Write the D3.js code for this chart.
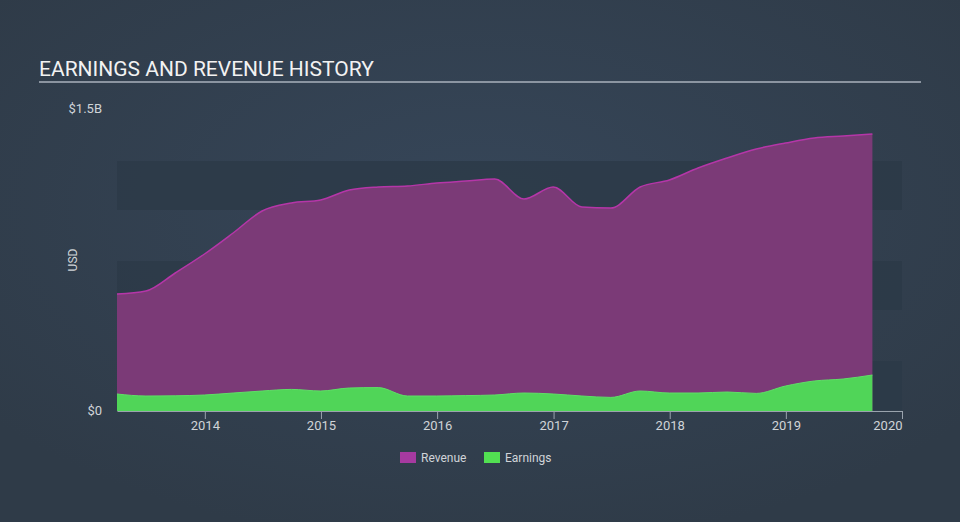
<!DOCTYPE html>
<html>
<head>
<meta charset="utf-8">
<script src="https://cdn.jsdelivr.net/npm/d3@7"></script>
<style>
  body { margin: 0; background: #344253; }
  svg { display: block; font-family: Roboto, "Open Sans", sans-serif; }
</style>
</head>
<body>
<div id="chart"></div>
<script>
// quarterly figures, billions USD
var dates = ["2013-03-31","2013-06-30","2013-09-30","2013-12-31","2014-03-31","2014-06-30","2014-09-30","2014-12-31",
             "2015-03-31","2015-06-30","2015-09-30","2015-12-31","2016-03-31","2016-06-30","2016-09-30","2016-12-31",
             "2017-03-31","2017-06-30","2017-09-30","2017-12-31","2018-03-31","2018-06-30","2018-09-30","2018-12-31",
             "2019-03-31","2019-06-30","2019-09-30"];
var revenue = [0.585, 0.60, 0.69, 0.785, 0.89, 1.0, 1.04, 1.055, 1.105, 1.12, 1.125, 1.14, 1.15, 1.16,
               1.06, 1.12, 1.02, 1.015, 1.12, 1.155, 1.215, 1.265, 1.31, 1.34, 1.365, 1.375, 1.385];
var earnings = [0.085, 0.075, 0.076, 0.08, 0.09, 0.10, 0.108, 0.10, 0.115, 0.117, 0.075, 0.075, 0.077, 0.08,
                0.09, 0.085, 0.075, 0.068, 0.10, 0.09, 0.09, 0.095, 0.088, 0.125, 0.15, 0.16, 0.18];
var xTicks = [2014, 2015, 2016, 2017, 2018, 2019, 2020];
var yTicks = [0, 1.5];
var legendItems = ["Revenue", "Earnings"];

var W = 960, H = 522;
var margin = {top: 111, right: 58, bottom: 111, left: 117},
    width = W - margin.left - margin.right,
    height = H - margin.top - margin.bottom;

var svg = d3.select("#chart").append("svg")
  .attr("width", W).attr("height", H);

var defs = svg.append("defs");
var grad = defs.append("radialGradient").attr("id", "bg")
  .attr("cx", "50%").attr("cy", "40%").attr("r", "65%");
grad.append("stop").attr("offset", "0%").attr("stop-color", "#364659");
grad.append("stop").attr("offset", "100%").attr("stop-color", "#2f3b48");
svg.append("rect").attr("width", W).attr("height", H).attr("fill", "url(#bg)");

// title
svg.append("text")
  .attr("x", 39).attr("y", 76)
  .attr("font-size", "21px")
  .attr("fill", "#f2f2f2")
  .text("EARNINGS AND REVENUE HISTORY");
svg.append("line")
  .attr("x1", 39).attr("x2", 921).attr("y1", 82).attr("y2", 82)
  .attr("stroke", "#aab2bc").attr("stroke-width", 1.5);

var parse = d3.timeParse("%Y-%m-%d");
var data = dates.map(function(d, i) {
  return {date: parse(d), rev: revenue[i], earn: earnings[i]};
});

var x = d3.scaleTime()
  .domain([parse("2013-03-31"), parse("2020-01-01")])
  .range([0, width]);
var y = d3.scaleLinear()
  .domain([0, 1.5])
  .range([height, 0]);

var g = svg.append("g")
  .attr("transform", "translate(" + margin.left + "," + margin.top + ")");

// alternating bands
var bands = d3.range(0, 1.5, 0.25);
g.selectAll(".band")
  .data(bands.filter(function(d, i) { return i % 2 === 0; }))
  .enter().append("rect")
    .attr("x", 0)
    .attr("width", width)
    .attr("y", function(d) { return y(d + 0.25); })
    .attr("height", function(d) { return y(d) - y(d + 0.25) - 1; })
    .attr("fill", "#2c3947")
    .attr("opacity", 0.8);

var revArea = d3.area()
  .curve(d3.curveMonotoneX)
  .x(function(d) { return x(d.date); })
  .y0(height)
  .y1(function(d) { return y(d.rev); });
var revLine = d3.line()
  .curve(d3.curveMonotoneX)
  .x(function(d) { return x(d.date); })
  .y(function(d) { return y(d.rev); });
var earnArea = d3.area()
  .curve(d3.curveMonotoneX)
  .x(function(d) { return x(d.date); })
  .y0(height)
  .y1(function(d) { return y(d.earn); });
var earnLine = d3.line()
  .curve(d3.curveMonotoneX)
  .x(function(d) { return x(d.date); })
  .y(function(d) { return y(d.earn); });

g.append("path").datum(data)
  .attr("d", revArea)
  .attr("fill", "#7b3a77");
g.append("path").datum(data)
  .attr("d", revLine)
  .attr("fill", "none")
  .attr("stroke", "#b536a8")
  .attr("stroke-width", 1.5);
g.append("path").datum(data)
  .attr("d", earnArea)
  .attr("fill", "#50d558");
g.append("path").datum(data)
  .attr("d", earnLine)
  .attr("fill", "none")
  .attr("stroke", "#5ee066")
  .attr("stroke-width", 1);

// x axis
var xAxis = g.append("g")
  .attr("transform", "translate(0," + height + ")")
  .call(d3.axisBottom(x)
    .tickValues(xTicks.map(function(t) { return new Date(t, 0, 1); }))
    .tickFormat(d3.timeFormat("%Y"))
    .tickSize(8)
    .tickSizeOuter(0));
xAxis.select(".domain").attr("stroke", "#9aa3ad");
xAxis.selectAll(".tick line").attr("stroke", "#9aa3ad");
xAxis.selectAll("text")
  .attr("fill", "#d0d4d8")
  .attr("font-size", "13px")
  .attr("y", 10)
  .attr("dy", "0.71em")
  .style("font-family", "Roboto, sans-serif");
xAxis.selectAll(".tick:last-of-type text")
  .attr("text-anchor", "end");

// y labels
g.selectAll(".ylab")
  .data(yTicks)
  .enter().append("text")
    .attr("x", -15)
    .attr("y", function(d) { return y(d) + (d === 0 ? 4 : 2); })
    .attr("text-anchor", "end")
    .attr("font-size", "13px")
    .attr("fill", "#d0d4d8")
    .text(function(d) { return d === 0 ? "$0" : "$" + d + "B"; });

svg.append("text")
  .attr("transform", "translate(77,260)rotate(-90)")
  .attr("text-anchor", "middle")
  .attr("font-size", "12px")
  .attr("fill", "#d0d4d8")
  .text("USD");

// legend
var legColors = ["#a63aa0", "#52e052"];
var legX = [400, 484];
var leg = svg.selectAll(".leg")
  .data(legendItems)
  .enter().append("g")
    .attr("transform", function(d, i) { return "translate(" + legX[i] + ",452)"; });
leg.append("rect")
  .attr("width", 16).attr("height", 11)
  .attr("fill", function(d, i) { return legColors[i]; });
leg.append("text")
  .attr("x", 21).attr("y", 10)
  .attr("font-size", "12px")
  .attr("fill", "#d0d4d8")
  .text(function(d) { return d; });
</script>
</body>
</html>
